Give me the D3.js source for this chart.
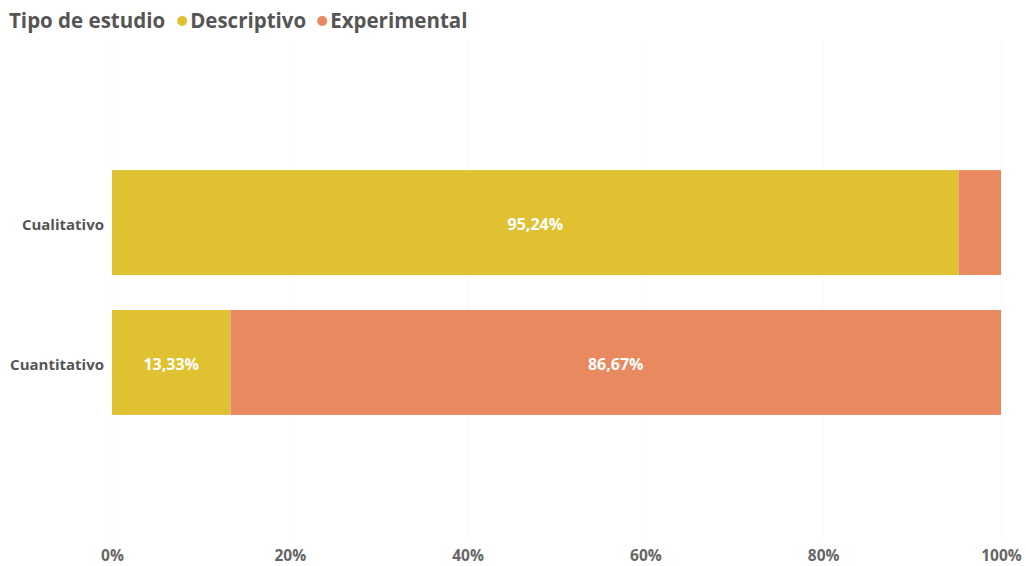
<!DOCTYPE html>
<html>
<head>
<meta charset="utf-8">
<script src="https://cdn.jsdelivr.net/npm/d3@7"></script>
<style>
  html, body { margin: 0; padding: 0; background: #fff; }
  svg { display: block; font-family: "Open Sans", "Noto Sans", sans-serif; }
</style>
</head>
<body>
<svg id="chart" width="1026" height="566"></svg>
<script>
// Study types (rows) and their share of each design (stacked to 100%)
const categories = ["Cualitativo", "Cuantitativo"];
const seriesNames = ["Descriptivo", "Experimental"];
const descriptivo = [95.24, 13.33];
const experimental = [4.76, 86.67];
const tickValues = [0, 20, 40, 60, 80, 100];
const tickLabels = ["0%", "20%", "40%", "60%", "80%", "100%"];
const colors = ["#E0C132", "#E8895F"];

const svg = d3.select("#chart");

const rows = categories.map((c, i) => ({ cat: c, Descriptivo: descriptivo[i], Experimental: experimental[i] }));
const stacked = d3.stack().keys(seriesNames)(rows);

const x = d3.scaleLinear().domain([0, 100]).range([112, 1001]);
const y = d3.scaleBand().domain(categories).range([40, 545]).paddingInner(0.25).paddingOuter(0.93);
const color = d3.scaleOrdinal().domain(seriesNames).range(colors);

// faint dotted vertical gridlines
svg.append("g")
  .selectAll("line")
  .data(tickValues)
  .join("line")
  .attr("x1", d => x(d)).attr("x2", d => x(d))
  .attr("y1", 40).attr("y2", 538)
  .attr("stroke", "#ececec")
  .attr("stroke-width", 1)
  .attr("stroke-dasharray", "1,3");

// stacked bars
const layer = svg.append("g").selectAll("g")
  .data(stacked)
  .join("g")
  .attr("fill", d => color(d.key));

layer.selectAll("rect")
  .data(d => d)
  .join("rect")
  .attr("x", d => x(d[0]))
  .attr("width", d => x(d[1]) - x(d[0]))
  .attr("y", d => y(d.data.cat))
  .attr("height", y.bandwidth());

// value labels inside segments wide enough to hold them
const fmt = v => v.toFixed(2).replace(".", ",") + "%";
layer.selectAll("text")
  .data(d => d.filter(s => (s[1] - s[0]) > 8))
  .join("text")
  .attr("x", d => (x(d[0]) + x(d[1])) / 2)
  .attr("y", d => y(d.data.cat) + y.bandwidth() / 2 + 2)
  .attr("dy", "0.35em")
  .attr("text-anchor", "middle")
  .attr("fill", "#ffffff")
  .attr("font-size", 16)
  .attr("font-weight", 700)
  .text(d => fmt(d[1] - d[0]));

// category axis labels
svg.append("g")
  .selectAll("text")
  .data(categories)
  .join("text")
  .attr("x", 104)
  .attr("y", d => y(d) + y.bandwidth() / 2 + 2)
  .attr("dy", "0.35em")
  .attr("text-anchor", "end")
  .attr("fill", "#555")
  .attr("font-size", 15)
  .attr("font-weight", 700)
  .text(d => d);

// percentage axis
const xAxis = d3.axisBottom(x)
  .tickValues(tickValues)
  .tickFormat((d, i) => tickLabels[i])
  .tickSize(0)
  .tickPadding(0);
const gx = svg.append("g").attr("transform", "translate(0,550)").call(xAxis);
gx.select(".domain").remove();
gx.selectAll("text")
  .attr("dy", "0.35em")
  .attr("y", 6)
  .attr("fill", "#666")
  .attr("font-size", 15.5)
  .attr("font-weight", 700)
  .attr("font-family", "'Open Sans', sans-serif");

// legend
const legend = svg.append("g").attr("transform", "translate(9,21)");
const title = legend.append("text")
  .attr("x", 0).attr("dy", "0.35em")
  .attr("fill", "#555")
  .attr("font-size", 20.5)
  .attr("font-weight", 700)
  .text("Tipo de estudio");
let lx = title.node().getComputedTextLength() + 12;
seriesNames.forEach(name => {
  legend.append("circle").attr("cx", lx + 5).attr("cy", 0).attr("r", 5).attr("fill", color(name));
  const t = legend.append("text")
    .attr("x", lx + 13).attr("dy", "0.35em")
    .attr("fill", "#555")
    .attr("font-size", 20.5)
    .attr("font-weight", 700)
    .text(name);
  lx += 13 + t.node().getComputedTextLength() + 11;
});
</script>
</body>
</html>
